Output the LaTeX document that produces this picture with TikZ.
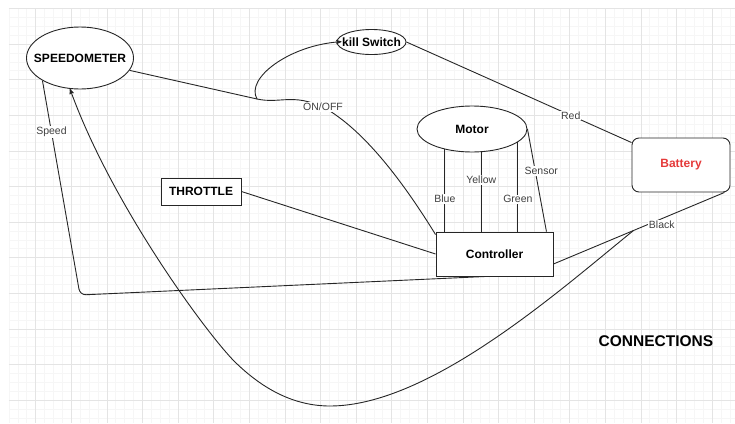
\documentclass[tikz,border=0pt]{standalone}
\usepackage{fontspec}
\setmainfont{Liberation Sans}
\usetikzlibrary{arrows, shapes.geometric, positioning}
\definecolor{batred}{HTML}{E53A3A}
\definecolor{gridmaj}{HTML}{E4E4E4}
\definecolor{gridmin}{HTML}{F6F6F6}

\begin{document}
\begin{tikzpicture}[x=1pt, y=-1pt]
	\tikzset{>=stealth', every node/.style={font=\fontsize{12}{14}\selectfont\bfseries},
		part/.style={draw=black!85, line width=0.9pt, fill=white, inner sep=0pt},
		oval/.style={part, ellipse},
		box/.style={part, rectangle},
		lbl/.style={font=\fontsize{10.5}{12}\selectfont, text=black!75, fill=white, inner sep=1pt},
		wire/.style={draw=black!85, line width=0.9pt}}
	
	\useasboundingbox (0,0) rectangle (735,423);
	
	% grid
	\foreach \i in {0,...,81}
		\draw[gridmin, line width=0.5pt] ({8.9+8.9*\i},8.4) -- ({8.9+8.9*\i},423);
	\foreach \j in {0,...,46}
		\draw[gridmin, line width=0.5pt] (8.9,{8.4+8.9*\j}) -- (735,{8.4+8.9*\j});
	\foreach \i in {1,...,20}
		\draw[gridmaj, line width=0.6pt] ({35.6*\i},8.4) -- ({35.6*\i},423);
	\foreach \j in {0,...,11}
		\draw[gridmaj, line width=0.6pt] (8.9,{8.4+35.6*\j}) -- (735,{8.4+35.6*\j});
	
	\node[oval, minimum width=107, minimum height=62, label={center:SPEEDOMETER}] (speedo) at (80,58) {};
	\node[oval, minimum width=69, minimum height=25, label={center:kill Switch}] (kill) at (371.5,42) {};
	\node[oval, minimum width=110, minimum height=46] (motor) at (472,129) {Motor};
	\node[box, minimum width=80, minimum height=27] (thr) at (201,191.5) {THROTTLE};
	\node[box, minimum width=117, minimum height=44] (ctrl) at (494.5,254) {Controller};
	\node[box, rounded corners=7pt, minimum width=98, minimum height=54, text=batred] (bat) at (681,165) {Battery};
	\node[font=\fontsize{15.5}{18}\selectfont\bfseries] (title) at (656,341) {CONNECTIONS};
	
	\coordinate (jn) at (257,99);
	\coordinate (onoff) at (323,107);
	\coordinate (bend) at (80,295);
	
	\draw[wire] (speedo.346) -- (jn);
	\draw[wire, ->, shorten >=-5pt] ([yshift=-3pt]ctrl.north west) .. controls (405,185) and (365,130) .. (onoff) node[lbl] {ON/OFF}
		.. controls (292,93) and (280,104) .. (jn)
		.. controls (245,78) and (290,45) .. (kill.west);
	\draw[wire] (kill.east) -- node[lbl, pos=0.73] {Red} ([yshift=-5pt]bat.north west);
	\draw[wire] (thr.east) -- (ctrl.west);
	
	\draw[wire] (motor.217) -- node[lbl, pos=0.6] {Blue} (motor.217 |- ctrl.north);
	\draw[wire] (motor.292) -- node[lbl, pos=0.35] {Yellow} (motor.292 |- ctrl.north);
	\draw[wire] (motor.344) -- node[lbl, pos=0.64] {Green} (motor.344 |- ctrl.north);
	\draw[wire] (motor.east) -- node[lbl, pos=0.41, xshift=6pt] {Sensor} ([xshift=-7pt]ctrl.north east);
	
	\draw[wire, rounded corners=6pt] ([xshift=-8pt]ctrl.south) -- (bend) -- node[lbl, pos=0.76] {Speed} (speedo.211);
	
	\draw[wire] ([yshift=-10pt]ctrl.east) -- coordinate[pos=0.468] (blk) node[lbl, pos=0.55, anchor=west] {Black} ([xshift=-6pt]bat.south east);
	\draw[wire, ->] (blk) .. controls (560,290) and (430,406) .. (330,406)
		.. controls (290,406) and (258,385) .. (233,360)
		.. controls (200,325) and (110,200) .. (speedo.252);
\end{tikzpicture}
\end{document}
